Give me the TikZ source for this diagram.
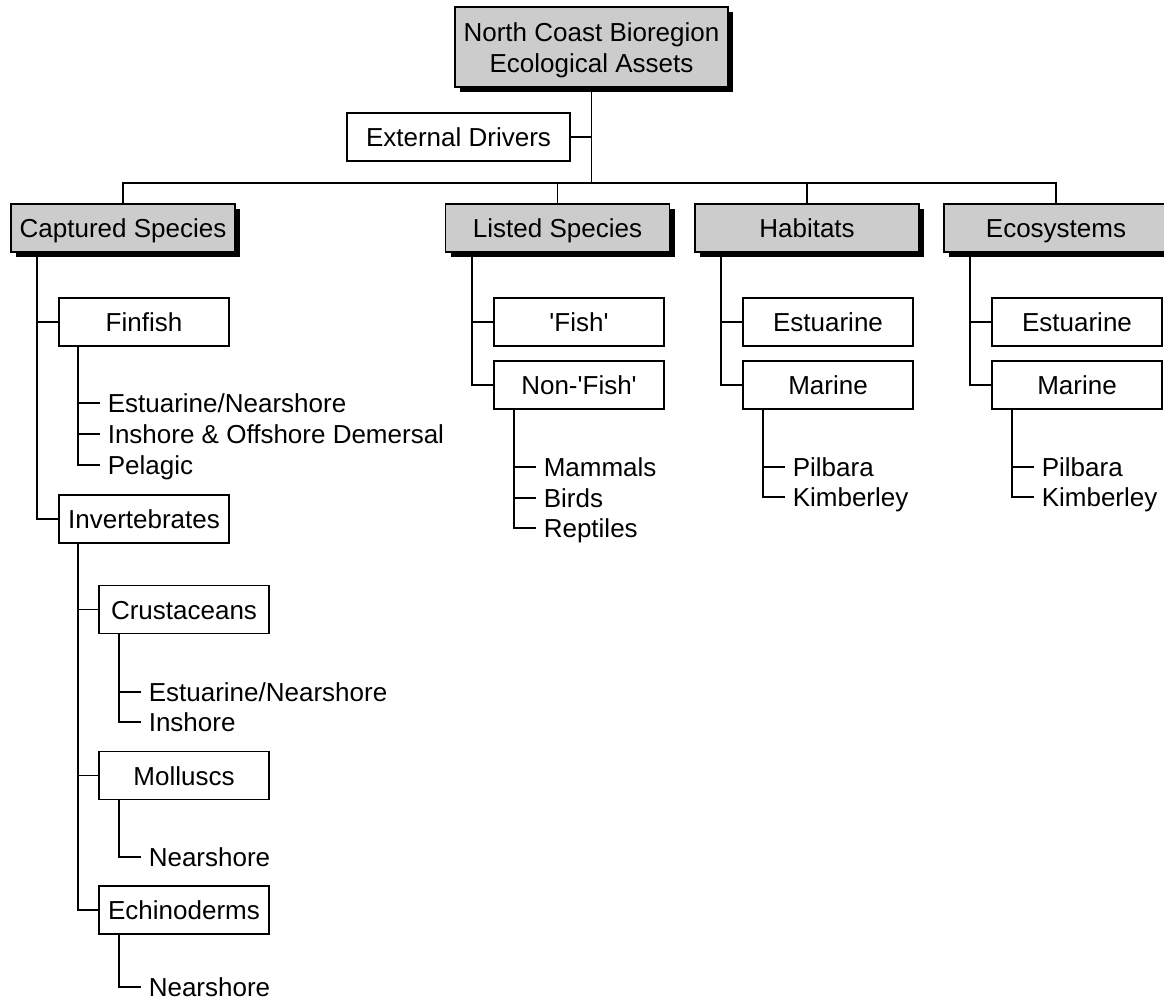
\documentclass[tikz,border=0pt]{standalone}
\usepackage{fontspec}
\setmainfont{Liberation Sans}
\usetikzlibrary{shadows}
\definecolor{boxgrey}{HTML}{CCCCCC}
\begin{document}
\begin{tikzpicture}[x=1pt,y=-1pt, line width=1.6pt,
  every node/.style={font=\fontsize{26}{31}\selectfont},
  box/.style={draw, fill=white, inner sep=0pt, text height=19pt, text depth=0pt, minimum height=48pt},
  shad/.style={drop shadow={shadow xshift=5pt, shadow yshift=-5pt, fill=black, opacity=1}},
  topbox/.style={box, fill=boxgrey, minimum width=224pt, shad},
  midbox/.style={box, minimum width=170pt},
  leaf/.style={inner ysep=0pt, inner xsep=7pt, text height=19pt, text depth=0pt, anchor=west}]
\useasboundingbox (0,0) rectangle (1164,1001);
\clip (0,0) rectangle (1164,1001);

% root
\node[draw, fill=boxgrey, inner sep=0pt, minimum width=273pt, minimum height=80pt, align=center, shad] (root) at (591.5,47) {\rule{0pt}{24.5pt}North Coast Bioregion\\Ecological Assets};
\node[box, minimum width=223pt] (ext) at (458.5,137) {External Drivers};

% level 1
\node[topbox] (cap) at (123,228) {Captured Species};
\node[topbox] (lst) at (557.5,228) {Listed Species};
\node[topbox] (hab) at (807,228) {Habitats};
\node[topbox] (eco) at (1056,228) {Ecosystems};

% level 2
\node[midbox] (fin) at (144,322) {Finfish};
\node[midbox] (inv) at (144,519) {Invertebrates};
\node[midbox] (crus) at (184,609.5) {Crustaceans};
\node[midbox] (moll) at (184,775.5) {Molluscs};
\node[midbox] (echi) at (184,910) {Echinoderms};
\node[midbox] (fish) at (579,322) {\textquotesingle Fish\textquotesingle};
\node[midbox] (nonfish) at (579,385) {Non-\textquotesingle Fish\textquotesingle};
\node[midbox] (hest) at (828,322) {Estuarine};
\node[midbox] (hmar) at (828,385) {Marine};
\node[midbox] (eest) at (1077,322) {Estuarine};
\node[midbox] (emar) at (1077,385) {Marine};

% leaves
\node[leaf] (f1) at (100,403) {Estuarine/Nearshore};
\node[leaf] (f2) at (100,434) {Inshore \& Offshore Demersal};
\node[leaf] (f3) at (100,465) {Pelagic};
\node[leaf] (c1) at (141,692) {Estuarine/Nearshore};
\node[leaf] (c2) at (141,722) {Inshore};
\node[leaf] (m1) at (141,857) {Nearshore};
\node[leaf] (e1) at (141,987) {Nearshore};
\node[leaf] (n1) at (536,467) {Mammals};
\node[leaf] (n2) at (536,498) {Birds};
\node[leaf] (n3) at (536,528) {Reptiles};
\node[leaf] (hp1) at (785,467) {Pilbara};
\node[leaf] (hp2) at (785,497) {Kimberley};
\node[leaf] (ep1) at (1034,467) {Pilbara};
\node[leaf] (ep2) at (1034,497) {Kimberley};

% connectors
\coordinate (bar) at (592,183);
\draw (root.south) -- (root.south |- bar);
\draw (ext.east) -- (ext.east -| root.south);
\draw (cap.north) |- (bar) -| (eco.north);
\draw (lst.north) -- (lst.north |- bar);
\draw (hab.north) -- (hab.north |- bar);

\draw ([xshift=27pt]cap.south west) |- (inv.west);
\draw (fin.west) -- ++(-21,0);
\draw ([xshift=20pt]fin.south west) |- (f3.west);
\draw (f1.west) -- ++(-21,0);
\draw (f2.west) -- ++(-21,0);
\draw ([xshift=20pt]inv.south west) |- (echi.west);
\draw (crus.west) -- ++(-20,0);
\draw (moll.west) -- ++(-20,0);
\draw ([xshift=21pt]crus.south west) |- (c2.west);
\draw (c1.west) -- ++(-21,0);
\draw ([xshift=21pt]moll.south west) |- (m1.west);
\draw ([xshift=21pt]echi.south west) |- (e1.west);

\draw ([xshift=27pt]lst.south west) |- (nonfish.west);
\draw (fish.west) -- ++(-21,0);
\draw ([xshift=21pt]nonfish.south west) |- (n3.west);
\draw (n1.west) -- ++(-21,0);
\draw (n2.west) -- ++(-21,0);

\draw ([xshift=27pt]hab.south west) |- (hmar.west);
\draw (hest.west) -- ++(-21,0);
\draw ([xshift=21pt]hmar.south west) |- (hp2.west);
\draw (hp1.west) -- ++(-21,0);

\draw ([xshift=27pt]eco.south west) |- (emar.west);
\draw (eest.west) -- ++(-21,0);
\draw ([xshift=21pt]emar.south west) |- (ep2.west);
\draw (ep1.west) -- ++(-21,0);
\end{tikzpicture}
\end{document}
